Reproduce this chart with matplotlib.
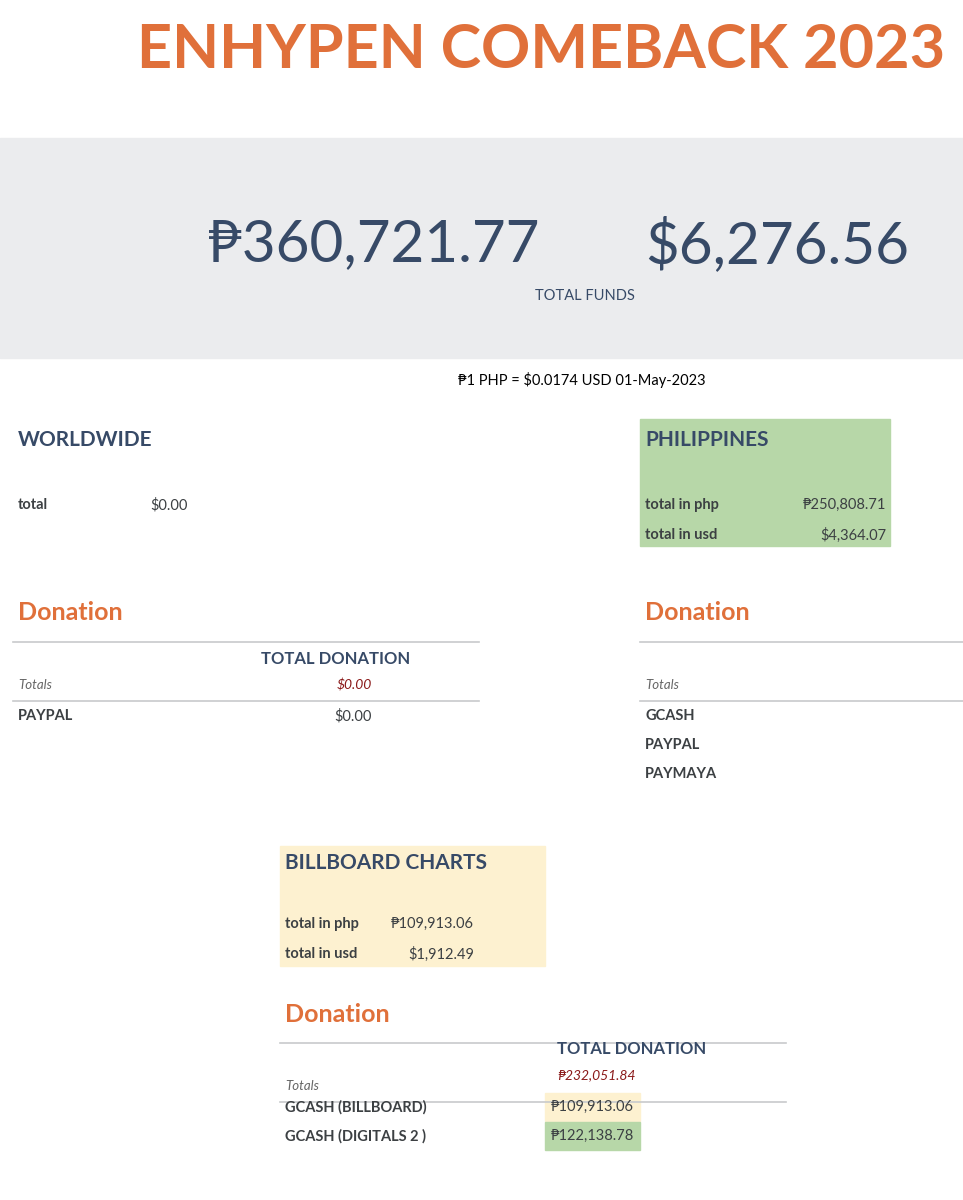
import matplotlib.pyplot as plt
from matplotlib.patches import Rectangle

plt.rcParams['font.family'] = ['Lato', 'DejaVu Sans']

title = 'ENHYPEN COMEBACK 2023'
total_php = '₱360,721.77'
total_usd = '$6,276.56'
rate_note = '₱1 PHP = $0.0174 USD 01-May-2023'

ww_total = '$0.00'
ph_labels = ['total in php', 'total in usd']
ph_values = ['₱250,808.71', '$4,364.07']
ww_rows = ['PAYPAL']
ww_values = ['$0.00']
ww_totals = '$0.00'
ph_rows = ['GCASH', 'PAYPAL', 'PAYMAYA']
bb_labels = ['total in php', 'total in usd']
bb_values = ['₱109,913.06', '$1,912.49']
bb_rows = ['GCASH (BILLBOARD)', 'GCASH (DIGITALS 2 )']
bb_row_values = ['₱109,913.06', '₱122,138.78']
bb_totals = '₱232,051.84'

ORANGE = '#E0703A'
NAVY = '#374A67'
DARK = '#3C4043'
RED = '#8B1A1A'
GREEN = '#B7D7A8'
YELLOW = '#FDF1D0'
GRAY = '#EBECEE'
LINE = '#C8CACC'

fig = plt.figure(figsize=(9.63, 12), dpi=100)
ax = fig.add_axes([0, 0, 1, 1])
ax.set_xlim(0, 963)
ax.set_ylim(1200, 0)
ax.axis('off')

ax.text(945, 50, title, color=ORANGE, fontsize=44, fontweight='bold', ha='right', va='center')

ax.add_patch(Rectangle((0, 138), 963, 220, color=GRAY))
ax.text(208, 245, total_php, color=NAVY, fontsize=42, ha='left', va='center')
ax.text(645, 245, total_usd, color=NAVY, fontsize=42, ha='left', va='center')
ax.text(585, 296, 'TOTAL FUNDS', color=NAVY, fontsize=10.5, ha='center', va='center')
ax.text(582, 380, rate_note, color='black', fontsize=10.5, ha='center', va='center')

# worldwide
ax.text(18, 440, 'WORLDWIDE', color=NAVY, fontsize=15, fontweight='bold', va='center')
ax.text(18, 505, 'total', color=DARK, fontsize=10.5, fontweight='bold', va='center')
ax.text(150, 505, ww_total, color=DARK, fontsize=10.5, va='center')

# philippines
ax.add_patch(Rectangle((640, 419), 250, 127, color=GREEN))
ax.text(645, 440, 'PHILIPPINES', color=NAVY, fontsize=15, fontweight='bold', va='center')
for i, (lab, val) in enumerate(zip(ph_labels, ph_values)):
    y = 505 + i * 30
    ax.text(645, y, lab, color=DARK, fontsize=10.5, fontweight='bold', va='center')
    ax.text(886, y, val, color=DARK, fontsize=10.5, ha='right', va='center')

# donation sections
def donation(x0, x1, y, header=True):
    ax.text(x0 + 5, y, 'Donation', color=ORANGE, fontsize=18, fontweight='bold', va='center')
    ax.plot([x0, x1], [y + 29, y + 29], color=LINE, lw=1.2)
    ax.plot([x0, x1], [y + 88, y + 88], color=LINE, lw=1.2)
    ax.text(x0 + 5, y + 72, 'Totals', color='#666666', fontsize=9.5, style='italic', va='center')

donation(13, 479, 613)
ax.text(336, 659, 'TOTAL DONATION', color=NAVY, fontsize=12, fontweight='bold', ha='center', va='center')
ax.text(354, 685, ww_totals, color=RED, fontsize=10, style='italic', ha='center', va='center')
for i, (r, v) in enumerate(zip(ww_rows, ww_values)):
    ax.text(18, 716 + i * 29, r, color=DARK, fontsize=10.5, fontweight='bold', va='center')
    ax.text(353, 716 + i * 29, v, color=DARK, fontsize=10.5, ha='center', va='center')

donation(640, 963, 613)
for i, r in enumerate(ph_rows):
    ax.text(645, 716 + i * 29, r, color=DARK, fontsize=10.5, fontweight='bold', va='center')

# billboard
ax.add_patch(Rectangle((280, 846), 265, 120, color=YELLOW))
ax.text(285, 863, 'BILLBOARD CHARTS', color=NAVY, fontsize=15, fontweight='bold', va='center')
for i, (lab, val) in enumerate(zip(bb_labels, bb_values)):
    y = 924 + i * 30
    ax.text(285, y, lab, color=DARK, fontsize=10.5, fontweight='bold', va='center')
    ax.text(474, y, val, color=DARK, fontsize=10.5, ha='right', va='center')

donation(280, 786, 1014)
ax.text(632, 1049, 'TOTAL DONATION', color=NAVY, fontsize=12, fontweight='bold', ha='center', va='center')
ax.text(596, 1075, bb_totals, color=RED, fontsize=10, style='italic', ha='center', va='center')
row_colors = [YELLOW, GREEN]
for i, (r, v) in enumerate(zip(bb_rows, bb_row_values)):
    y = 1107 + i * 29
    ax.add_patch(Rectangle((545, y - 14), 95, 28, color=row_colors[i]))
    ax.text(285, y, r, color=DARK, fontsize=10.5, fontweight='bold', va='center')
    ax.text(592, y, v, color=DARK, fontsize=10.5, ha='center', va='center')

fig.savefig('out.png', dpi=100)
